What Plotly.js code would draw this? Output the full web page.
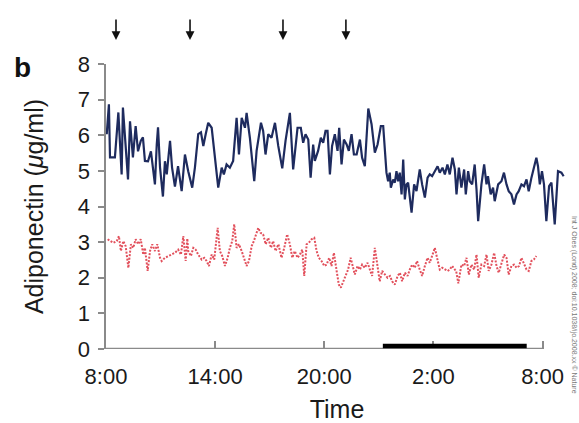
<!DOCTYPE html>
<html>
<head>
<meta charset="utf-8">
<script src="https://cdn.plot.ly/plotly-3.0.1.min.js"></script>
<style>html,body{margin:0;padding:0;background:#fff;}#chart{width:579px;height:423px;}</style>
</head>
<body>
<div id="chart"></div>
<script>
// Time in hours after midnight of day 1 (8 = 8:00, 32 = 8:00 next day)
const blueTime = [8.04,8.16,8.22,8.49,8.68,8.86,8.93,9.21,9.32,9.48,9.63,9.76,9.91,10.03,10.14,10.31,10.47,10.69,10.79,10.86,10.97,11.13,11.24,11.34,11.52,11.63,11.79,11.96,12.16,12.34,12.52,12.74,12.89,13.07,13.22,13.35,13.48,13.62,13.81,13.99,14.17,14.36,14.48,14.63,14.81,14.99,15.18,15.31,15.46,15.64,15.73,15.91,16.15,16.28,16.52,16.64,16.77,16.92,17.10,17.29,17.47,17.69,17.87,18.11,18.29,18.53,18.71,18.84,18.97,19.12,19.25,19.39,19.48,19.66,19.81,19.94,20.07,20.18,20.31,20.43,20.58,20.73,20.82,20.95,21.08,21.23,21.35,21.50,21.63,21.78,21.96,22.08,22.23,22.42,22.60,22.78,22.93,23.11,23.24,23.42,23.51,23.60,23.66,23.79,23.88,23.97,24.06,24.15,24.25,24.34,24.43,24.52,24.61,24.80,24.94,25.07,25.25,25.38,25.53,25.68,25.80,25.93,26.08,26.23,26.35,26.50,26.63,26.77,26.90,27.05,27.18,27.27,27.40,27.54,27.69,27.78,27.91,28.00,28.13,28.27,28.37,28.46,28.64,28.79,28.92,29.00,29.15,29.28,29.37,29.56,29.74,29.88,30.02,30.14,30.29,30.43,30.57,30.69,30.84,30.98,31.12,31.24,31.39,31.53,31.66,31.75,31.85,31.97,32.08,32.21,32.36,32.49,32.67,32.85,33.04,33.16];
const blueValue = [6.03,6.87,5.38,5.38,6.64,4.90,6.78,4.76,6.39,5.38,6.26,5.55,5.84,5.94,5.28,5.27,5.55,4.62,5.74,6.22,5.10,4.28,5.27,4.90,5.84,5.10,4.56,5.13,4.43,5.46,4.99,4.53,5.10,6.03,6.08,5.70,6.03,6.35,6.21,5.28,4.53,5.09,4.90,5.18,5.09,5.28,6.49,5.46,6.49,6.21,6.63,5.93,4.71,5.56,6.35,6.12,5.46,6.03,5.93,6.35,5.70,5.07,5.84,6.63,5.04,6.21,6.21,5.79,6.03,5.88,4.81,5.74,5.28,5.56,5.93,5.79,6.12,6.12,4.90,5.70,6.03,5.56,6.21,5.18,5.88,5.74,5.56,6.03,5.46,5.46,5.88,5.37,5.13,6.75,6.31,5.51,5.74,6.26,6.26,4.95,4.71,4.95,4.53,4.76,4.67,4.99,4.71,4.95,4.34,5.32,4.20,4.62,4.67,3.83,4.62,4.43,5.04,4.62,4.25,4.81,4.90,4.85,4.99,5.13,4.95,5.09,4.90,5.18,4.90,5.37,5.04,4.34,5.09,4.53,5.04,4.34,4.99,4.71,4.62,5.18,4.48,3.59,4.62,5.18,4.62,4.85,4.34,4.53,4.15,4.62,4.71,4.95,4.62,4.43,4.34,4.06,4.34,4.43,4.62,4.57,4.76,4.43,4.81,5.13,5.37,5.13,4.62,4.99,4.62,3.59,4.57,4.67,3.50,4.99,4.95,4.85];

const redTime = [8.09,8.22,8.40,8.59,8.71,8.82,8.95,9.08,9.23,9.37,9.50,9.63,9.77,9.91,10.05,10.14,10.29,10.42,10.54,10.69,10.82,10.97,11.06,11.24,11.42,11.61,11.79,11.97,12.12,12.25,12.38,12.47,12.52,12.67,12.80,12.93,13.07,13.26,13.40,13.53,13.66,13.81,13.95,14.14,14.26,14.39,14.54,14.69,14.81,14.94,15.05,15.18,15.31,15.46,15.60,15.73,15.86,16.01,16.13,16.24,16.37,16.50,16.64,16.78,16.92,17.07,17.19,17.32,17.48,17.65,17.80,17.96,18.11,18.24,18.38,18.53,18.66,18.79,18.90,19.03,19.15,19.30,19.45,19.58,19.70,19.85,20.00,20.13,20.27,20.40,20.53,20.68,20.80,20.91,21.04,21.17,21.31,21.45,21.56,21.68,21.83,21.96,22.08,22.23,22.38,22.51,22.63,22.78,22.91,23.05,23.18,23.33,23.48,23.61,23.73,23.88,24.03,24.16,24.28,24.43,24.58,24.70,24.83,24.98,25.10,25.25,25.38,25.53,25.68,25.80,25.93,26.08,26.20,26.35,26.48,26.63,26.78,26.90,27.03,27.18,27.25,27.37,27.54,27.69,27.82,27.95,28.09,28.24,28.37,28.49,28.64,28.79,28.92,29.04,29.19,29.34,29.47,29.59,29.74,29.89,30.02,30.14,30.29,30.43,30.57,30.71,30.84,30.98,31.12,31.24,31.39,31.52,31.66];
const redValue = [3.08,3.03,2.98,3.03,3.17,2.75,3.03,2.89,2.28,2.94,2.84,3.08,2.94,3.08,2.65,2.84,2.19,2.75,2.94,2.75,2.94,2.56,2.47,2.56,2.61,2.65,2.70,2.79,2.65,3.17,2.47,3.10,2.75,2.61,2.84,2.79,2.65,2.51,2.56,2.47,2.33,2.65,2.51,3.40,2.75,2.61,2.33,2.56,2.84,3.03,3.50,2.84,2.94,2.75,2.56,2.33,2.47,2.89,3.03,3.22,3.40,3.26,3.22,2.94,3.12,2.84,3.03,2.75,2.94,2.56,2.84,3.22,2.94,2.56,2.75,2.56,2.65,2.79,2.05,2.94,2.98,3.08,3.12,2.75,2.56,2.47,2.33,2.37,2.56,2.33,2.70,2.19,1.81,1.72,1.90,2.09,2.23,2.56,2.37,2.09,2.33,2.23,2.37,2.28,2.42,2.23,2.05,2.84,2.33,1.90,2.19,2.09,2.00,2.05,1.90,1.81,2.05,2.14,1.90,2.14,2.05,2.23,2.37,2.28,2.47,2.23,2.05,2.33,2.56,2.42,2.65,2.84,2.56,2.23,2.28,2.23,2.19,2.23,2.33,2.23,2.19,1.84,2.37,2.33,2.56,2.09,2.37,2.23,2.65,2.00,2.37,2.33,2.65,2.19,2.37,2.70,2.33,2.14,2.37,2.65,2.56,2.09,2.33,2.37,2.28,2.33,2.56,2.37,2.23,2.19,2.47,2.51,2.61];

const mealTimes = [8.55, 12.62, 17.73, 21.19];
const sleepStart = 23.22;
const sleepEnd = 31.13;

const xTickVals = [8, 14, 20, 26, 32];
const xTickText = ['8:00', '14:00', '20:00', '2:00', '8:00'];
const yTickVals = [0, 1, 2, 3, 4, 5, 6, 7, 8];

const axisGray = '#8a8a8a';
const FONT = 'Liberation Sans, Arial, Helvetica, sans-serif';

const W = 579, H = 423, ML = 106, MR = 11, MT = 64, MB = 74;
const PW = W - ML - MR, PH = H - MT - MB;
const px2paperX = px => (px - ML) / PW;
const px2paperY = py => (H - MB - py) / PH;

const traces = [
  {
    x: redTime, y: redValue, type: 'scatter', mode: 'lines',
    line: {color: '#e2505c', width: 2, dash: '2px,1.5px'},
    hoverinfo: 'skip'
  },
  {
    x: blueTime, y: blueValue, type: 'scatter', mode: 'lines',
    line: {color: '#1e2b5e', width: 2.2},
    hoverinfo: 'skip'
  }
];

const annotations = mealTimes.map(t => ({
  x: t, xref: 'x', y: px2paperY(40), yref: 'paper',
  ax: 0, ay: -22, showarrow: true, text: '',
  arrowhead: 2, arrowsize: 1.1, arrowwidth: 1.6, arrowcolor: '#111'
}));
annotations.push({
  x: px2paperX(22), y: px2paperY(67), xref: 'paper', yref: 'paper',
  xanchor: 'center', yanchor: 'middle',
  text: '<b>b</b>', showarrow: false,
  font: {family: FONT, size: 28, color: '#111'}
});
annotations.push({
  x: px2paperX(574), y: px2paperY(305), xref: 'paper', yref: 'paper',
  xanchor: 'center', yanchor: 'middle',
  showarrow: false, textangle: 90,
  text: 'Int J Obes (Lond) 2008; doi:10.1038/ijo.2008.xx © Nature',
  font: {family: FONT, size: 7, color: '#777'}
});

const layout = {
  width: W, height: H,
  margin: {l: ML, r: MR, t: MT, b: MB},
  paper_bgcolor: '#fff', plot_bgcolor: '#fff',
  showlegend: false, hovermode: false,
  font: {family: FONT, color: '#1a1a1a'},
  xaxis: {
    range: [8, 33.4], tickvals: xTickVals, ticktext: xTickText,
    ticks: 'inside', ticklen: 8, tickwidth: 2, tickcolor: axisGray,
    showline: false, zeroline: false, showgrid: false,
    tickfont: {family: FONT, size: 22, color: '#1a1a1a'},
    ticklabelstandoff: 12,
    title: {text: 'Time', font: {family: FONT, size: 25, color: '#1a1a1a'}, standoff: 14}
  },
  yaxis: {
    range: [0, 8], tickvals: yTickVals,
    ticks: 'outside', ticklen: 6, tickwidth: 2, tickcolor: axisGray,
    showline: true, linecolor: axisGray, linewidth: 2.5,
    zeroline: false, showgrid: false,
    tickfont: {family: FONT, size: 22, color: '#1a1a1a'},
    ticklabelstandoff: 3,
    title: {text: 'Adiponectin (<i>μ</i>g/ml)', font: {family: FONT, size: 25, color: '#1a1a1a'}, standoff: 27}
  },
  shapes: [
    {type: 'line', xref: 'x', yref: 'y', x0: 8, x1: 32, y0: 0, y1: 0,
     line: {color: axisGray, width: 2.5}},
    {type: 'rect', xref: 'x', yref: 'y', x0: sleepStart, x1: sleepEnd, y0: 0.02, y1: 0.15,
     fillcolor: '#000', line: {width: 0}}
  ],
  annotations: annotations
};

Plotly.newPlot('chart', traces, layout, {displayModeBar: false, staticPlot: true});
</script>
</body>
</html>
